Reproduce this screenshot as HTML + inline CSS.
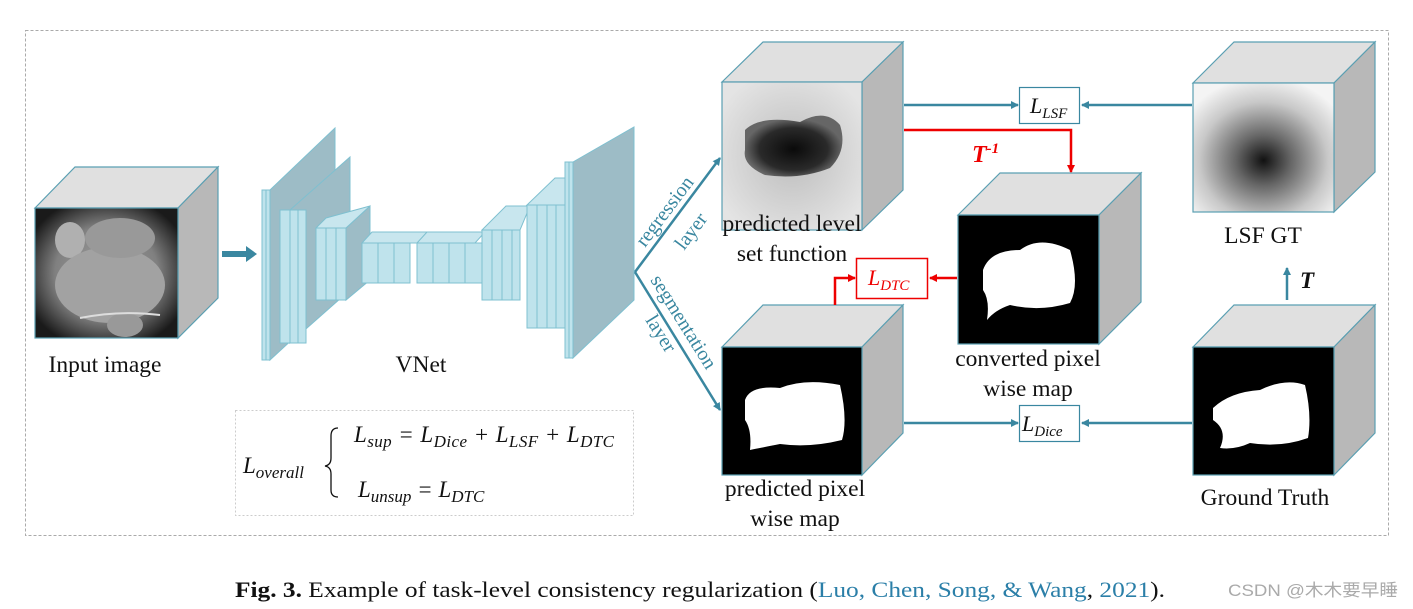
<!DOCTYPE html>
<html><head><meta charset="utf-8"><style>
html,body{margin:0;padding:0;background:#fff;}
svg{display:block;}
.t{font-family:"Liberation Serif",serif;font-size:23.5px;fill:#111;}
.m{font-family:"Liberation Serif",serif;font-style:italic;fill:#111;}
</style></head><body>
<svg width="1413" height="609" viewBox="0 0 1413 609" xmlns="http://www.w3.org/2000/svg">
<defs>
<radialGradient id="lsf" cx="0.5" cy="0.6" r="0.65"><stop offset="0" stop-color="#111"/><stop offset="0.3" stop-color="#666"/><stop offset="0.7" stop-color="#c8c8c8"/><stop offset="1" stop-color="#f4f4f4"/></radialGradient>
<radialGradient id="pl" cx="0.5" cy="0.5" r="0.6"><stop offset="0" stop-color="#bdbdbd"/><stop offset="1" stop-color="#e4e4e4"/></radialGradient>
<radialGradient id="blob" cx="0.5" cy="0.55" r="0.5"><stop offset="0" stop-color="#0a0a0a"/><stop offset="0.7" stop-color="#2a2a2a"/><stop offset="1" stop-color="#666"/></radialGradient>
<radialGradient id="inp" cx="0.5" cy="0.5" r="0.6"><stop offset="0" stop-color="#a0a0a0"/><stop offset="0.6" stop-color="#808080"/><stop offset="1" stop-color="#1a1a1a"/></radialGradient>
<marker id="ab" markerWidth="8" markerHeight="8" refX="7" refY="4" orient="auto" markerUnits="userSpaceOnUse"><path d="M0,0 L8,4 L0,8 Z" fill="#3a87a0"/></marker>
<marker id="ar" markerWidth="8" markerHeight="8" refX="7" refY="4" orient="auto" markerUnits="userSpaceOnUse"><path d="M0,0 L8,4 L0,8 Z" fill="#e00"/></marker>
</defs>
<rect x="25.5" y="30.5" width="1363" height="505" fill="none" stroke="#aaa" stroke-dasharray="3,2"/>

<!-- Input -->
<g stroke="#5a9fb2" stroke-width="1.2">
<polygon points="35,208 75,167 218,167 178,208" fill="#e0e0e0"/>
<polygon points="178,208 218,167 218,298 178,338" fill="#b8b8b8"/>
<rect x="35" y="208" width="143" height="130" fill="url(#inp)"/>
</g>
<ellipse cx="70" cy="240" rx="15" ry="18" fill="#b0b0b0"/>
<ellipse cx="110" cy="285" rx="55" ry="38" fill="#a2a2a2"/>
<ellipse cx="120" cy="238" rx="35" ry="20" fill="#999"/>
<ellipse cx="125" cy="325" rx="18" ry="12" fill="#999"/>
<path d="M80,318 Q120,310 160,315" stroke="#ddd" stroke-width="2" fill="none"/>
<path d="M222,254 L248,254" stroke="#3a87a0" stroke-width="6"/>
<polygon points="246,246 257,254 246,262" fill="#3a87a0"/>

<!-- VNet -->
<g stroke="#7fc0d0" stroke-width="1">
<polygon points="270,190 335,128 335,300 270,360" fill="#9dbcc6"/>
<rect x="262" y="190" width="4" height="170" fill="#bfe3ec"/>
<rect x="266" y="190" width="4" height="170" fill="#bfe3ec"/>
<polygon points="290,210 350,157 350,290 290,343" fill="#9dbcc6"/>
<rect x="280" y="210" width="10" height="133" fill="#bfe3ec"/>
<rect x="290" y="210" width="8" height="133" fill="#bfe3ec"/>
<rect x="298" y="210" width="8" height="133" fill="#bfe3ec"/>
<polygon points="346,228 370,206 370,280 346,300" fill="#9dbcc6"/>
<rect x="316" y="228" width="10" height="72" fill="#bfe3ec"/>
<rect x="326" y="228" width="10" height="72" fill="#bfe3ec"/>
<rect x="336" y="228" width="10" height="72" fill="#bfe3ec"/>
<polygon points="316,228 326,218 370,206 346,228" fill="#c8e6ee"/>
<polygon points="362,243 372,232 430,232 420,243" fill="#c8e6ee"/>
<rect x="362" y="243" width="16" height="40" fill="#bfe3ec"/>
<rect x="378" y="243" width="16" height="40" fill="#bfe3ec"/>
<rect x="394" y="243" width="16" height="40" fill="#bfe3ec"/>
<polygon points="417,243 427,232 485,232 475,243" fill="#c8e6ee"/>
<rect x="417" y="243" width="16" height="40" fill="#bfe3ec"/>
<rect x="433" y="243" width="16" height="40" fill="#bfe3ec"/>
<rect x="449" y="243" width="16" height="40" fill="#bfe3ec"/>
<rect x="465" y="243" width="17" height="40" fill="#bfe3ec"/>
<polygon points="482,230 506,206 530,206 520,230" fill="#c8e6ee"/>
<rect x="482" y="230" width="10" height="70" fill="#bfe3ec"/>
<rect x="492" y="230" width="10" height="70" fill="#bfe3ec"/>
<rect x="502" y="230" width="10" height="70" fill="#bfe3ec"/>
<rect x="512" y="230" width="8" height="70" fill="#bfe3ec"/>
<polygon points="527,205 555,178 578,178 565,205" fill="#c8e6ee"/>
<rect x="527" y="205" width="10" height="123" fill="#bfe3ec"/>
<rect x="537" y="205" width="10" height="123" fill="#bfe3ec"/>
<rect x="547" y="205" width="9" height="123" fill="#bfe3ec"/>
<rect x="556" y="205" width="9" height="123" fill="#bfe3ec"/>
<polygon points="573,162 634,127 634,300 573,358" fill="#9dbcc6"/>
<rect x="565" y="162" width="4" height="196" fill="#bfe3ec"/>
<rect x="569" y="162" width="4" height="196" fill="#bfe3ec"/>
</g>

<!-- branches -->
<path d="M635,272 L720,158" stroke="#3a87a0" stroke-width="2.5" fill="none" marker-end="url(#ab)"/>
<path d="M635,272 L720,410" stroke="#3a87a0" stroke-width="2.5" fill="none" marker-end="url(#ab)"/>
<text class="t" style="fill:#3a87a0;font-size:20px" transform="translate(645,248) rotate(-53)">regression</text>
<text class="t" style="fill:#3a87a0;font-size:20px" transform="translate(684,251) rotate(-53)">layer</text>
<text class="t" style="fill:#3a87a0;font-size:20px" transform="translate(650,280) rotate(58)">segmentation</text>
<text class="t" style="fill:#3a87a0;font-size:20px" transform="translate(645,320) rotate(58)">layer</text>

<!-- predicted level set cube -->
<g stroke="#5a9fb2" stroke-width="1.2">
<polygon points="722,82 763,42 903,42 862,82" fill="#e0e0e0"/>
<polygon points="862,82 903,42 903,190 862,230" fill="#b8b8b8"/>
<rect x="722" y="82" width="140" height="148" fill="url(#pl)"/>
</g>
<path d="M745,130 Q760,115 800,122 Q825,108 840,125 Q848,150 830,168 Q800,180 765,175 Q742,165 745,150 Z" fill="url(#blob)"/>
<!-- LSF GT cube -->
<g stroke="#5a9fb2" stroke-width="1.2">
<polygon points="1193,83 1234,42 1375,42 1334,83" fill="#e0e0e0"/>
<polygon points="1334,83 1375,42 1375,172 1334,212" fill="#b8b8b8"/>
<rect x="1193" y="83" width="141" height="129" fill="url(#lsf)"/>
</g>
<!-- converted cube -->
<g stroke="#5a9fb2" stroke-width="1.2">
<polygon points="958,215 1000,173 1141,173 1099,215" fill="#e0e0e0"/>
<polygon points="1099,215 1141,173 1141,302 1099,344" fill="#b8b8b8"/>
<rect x="958" y="215" width="141" height="129" fill="#000"/>
</g>
<path d="M983,270 Q990,250 1020,250 Q1040,235 1070,250 Q1080,285 1070,303 Q1040,312 1010,305 Q995,310 987,320 Q990,300 983,290 Z" fill="#fff"/>
<!-- predicted pixel cube -->
<g stroke="#5a9fb2" stroke-width="1.2">
<polygon points="722,347 763,305 903,305 862,347" fill="#e0e0e0"/>
<polygon points="862,347 903,305 903,433 862,475" fill="#b8b8b8"/>
<rect x="722" y="347" width="140" height="128" fill="#000"/>
</g>
<path d="M745,400 Q750,385 780,388 Q805,378 840,385 Q848,420 842,440 Q810,448 780,444 Q760,448 750,450 Q752,430 745,420 Z" fill="#fff"/>
<!-- ground truth cube -->
<g stroke="#5a9fb2" stroke-width="1.2">
<polygon points="1193,347 1234,305 1375,305 1334,347" fill="#e0e0e0"/>
<polygon points="1334,347 1375,305 1375,433 1334,475" fill="#b8b8b8"/>
<rect x="1193" y="347" width="141" height="128" fill="#000"/>
</g>
<path d="M1213,408 Q1230,392 1260,390 Q1285,378 1305,385 Q1312,415 1308,438 Q1280,448 1250,443 Q1235,450 1220,448 Q1228,430 1213,420 Z" fill="#fff"/>

<!-- connectors -->
<path d="M904,105 L1018,105" stroke="#3a87a0" stroke-width="2.5" marker-end="url(#ab)"/>
<path d="M1192,105 L1082,105" stroke="#3a87a0" stroke-width="2.5" marker-end="url(#ab)"/>
<path d="M904,423 L1018,423" stroke="#3a87a0" stroke-width="2.5" marker-end="url(#ab)"/>
<path d="M1192,423 L1082,423" stroke="#3a87a0" stroke-width="2.5" marker-end="url(#ab)"/>
<path d="M1287,300 L1287,268" stroke="#3a87a0" stroke-width="2.5" marker-end="url(#ab)"/>
<path d="M904,130 L1071,130 L1071,172" stroke="#e00" stroke-width="2.5" fill="none" marker-end="url(#ar)"/>
<path d="M835,305 L835,278 L855,278" stroke="#e00" stroke-width="2.5" fill="none" marker-end="url(#ar)"/>
<path d="M957,278 L930,278" stroke="#e00" stroke-width="2.5" fill="none" marker-end="url(#ar)"/>

<rect x="1019.5" y="87.5" width="60" height="36" fill="#fff" stroke="#3a87a0" stroke-width="1.2"/>
<text class="m" x="1030" y="113" font-size="22">L<tspan font-size="15" dy="5">LSF</tspan></text>
<rect x="1019.5" y="405.5" width="60" height="36" fill="#fff" stroke="#3a87a0" stroke-width="1.2"/>
<text class="m" x="1022" y="431" font-size="22">L<tspan font-size="15" dy="5">Dice</tspan></text>
<rect x="856.5" y="258.5" width="71" height="40" fill="#fff" stroke="#e00" stroke-width="1.5"/>
<text class="m" x="868" y="285" font-size="22" style="fill:#e00">L<tspan font-size="15" dy="5">DTC</tspan></text>
<text class="m" x="972" y="162" font-size="24" font-weight="bold" style="fill:#e00">T<tspan font-size="15" dy="-9">-1</tspan></text>
<text class="m" x="1300" y="288" font-size="23" font-weight="bold">T</text>

<!-- labels -->
<text class="t" x="105" y="372" text-anchor="middle">Input image</text>
<text class="t" x="421" y="372" text-anchor="middle">VNet</text>
<text class="t" x="792" y="231" text-anchor="middle">predicted level</text>
<text class="t" x="792" y="261" text-anchor="middle">set function</text>
<text class="t" x="1263" y="243" text-anchor="middle">LSF GT</text>
<text class="t" x="1028" y="366" text-anchor="middle">converted pixel</text>
<text class="t" x="1028" y="396" text-anchor="middle">wise map</text>
<text class="t" x="795" y="496" text-anchor="middle">predicted pixel</text>
<text class="t" x="795" y="526" text-anchor="middle">wise map</text>
<text class="t" x="1265" y="505" text-anchor="middle">Ground Truth</text>

<!-- formula -->
<rect x="235.5" y="410.5" width="398" height="105" fill="none" stroke="#ccc" stroke-dasharray="2,2"/>
<text class="m" x="243" y="473" font-size="23">L<tspan font-size="17" dy="5">overall</tspan></text>
<path d="M338,428 Q331,428 331,436 L331,458 Q331,465 325,466 Q331,467 331,474 L331,490 Q331,497 338,497" fill="none" stroke="#111" stroke-width="1.3"/>
<text class="m" x="354" y="442" font-size="23" textLength="260">L<tspan font-size="17" dy="5">sup</tspan><tspan dy="-5"> = L</tspan><tspan font-size="17" dy="5">Dice</tspan><tspan dy="-5"> + L</tspan><tspan font-size="17" dy="5">LSF</tspan><tspan dy="-5"> + L</tspan><tspan font-size="17" dy="5">DTC</tspan></text>
<text class="m" x="358" y="497" font-size="23">L<tspan font-size="17" dy="5">unsup</tspan><tspan dy="-5"> = L</tspan><tspan font-size="17" dy="5">DTC</tspan></text>

<!-- caption -->
<text x="235" y="597" textLength="930" lengthAdjust="spacingAndGlyphs" style="font-family:'Liberation Serif',serif;font-size:22px;fill:#111"><tspan font-weight="bold">Fig. 3.</tspan>  Example of task-level consistency regularization (<tspan fill="#2b7fa8">Luo, Chen, Song, &amp; Wang</tspan>, <tspan fill="#2b7fa8">2021</tspan>).</text>
<text x="1228" y="596" textLength="170" lengthAdjust="spacingAndGlyphs" style="font-family:'Liberation Sans','Noto Sans CJK SC',sans-serif;font-size:17px;fill:#aaa">CSDN @木木要早睡</text>
</svg>
</body></html>
